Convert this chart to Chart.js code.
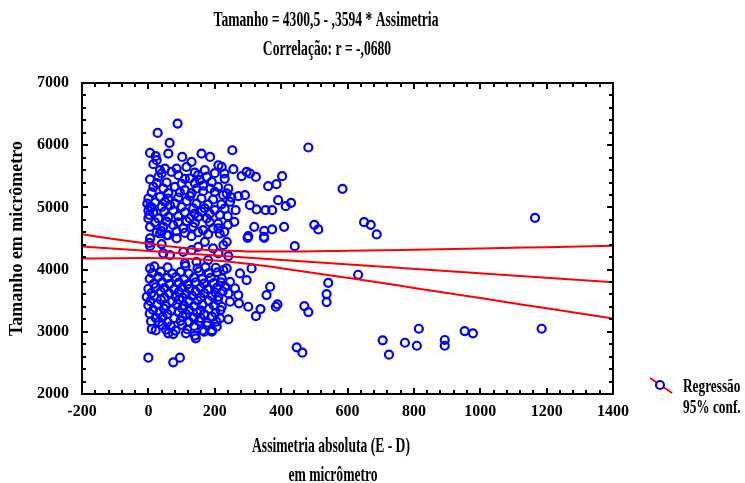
<!DOCTYPE html>
<html>
<head>
<meta charset="utf-8">
<script src="https://cdn.jsdelivr.net/npm/chart.js@4/dist/chart.umd.min.js"></script>
<style>
  html, body { margin: 0; padding: 0; background: #ffffff; }
  #wrap { width: 745px; height: 483px; }
</style>
</head>
<body>
<div id="wrap"><canvas id="c" width="745" height="483"></canvas></div>
<script>
// ---------- DATA ----------
const titleLines = ['Tamanho = 4300,5 - ,3594 * Assimetria', 'Correlação: r = -,0680'];
const xAxisTitleLines = ['Assimetria absoluta (E - D)', 'em micrômetro'];
const yAxisTitle = 'Tamanho em micrômetro';
const legendLabels = ['Regressão', '95% conf.'];

// observations: [assimetria, tamanho]
const pontosSuperiores = [
  [88,6348],[28,6197],[64,6036],[5,5876],[22,5823],[60,5866],[102,5812],[130,5731],[160,5866],[186,5812],
  [211,5678],[15,5694],[25,5759],[50,5625],[85,5625],[70,5571],[40,5545],[90,5518],[150,5518],[5,5449],
  [30,5490],[125,5465],[176,5490],[191,5410],[15,5330],[45,5304],[80,5330],[110,5277],[145,5304],[186,5304],
  [200,5250],[0,5143],[35,5170],[60,5143],[90,5159],[125,5180],[160,5143],[195,5127],[5,5009],[40,5009],
  [65,5036],[100,5009],[135,4983],[170,4983],[200,4956],[0,4822],[30,4822],[60,4848],[90,4859],[125,4822],
  [150,4848],[176,4822],[5,4687],[45,4687],[75,4715],[105,4662],[135,4687],[165,4634],[195,4662],[5,4501],
  [60,4554],[130,4538],[20,5080],[50,5090],[80,5060],[115,5100],[145,5060],[180,5050],[15,4920],[48,4930],
  [75,4950],[110,4920],[140,4900],[160,4930],[185,4900],[20,4760],[55,4770],[90,4760],[115,4780],[140,4750],
  [185,4760],[210,4740],[25,4600],[40,4620],[85,4620],[110,4590],[150,4600],[180,4570],[215,4580],[10,5240],
  [60,5230],[95,5240],[130,5230],[165,5260],[25,5390],[55,5400],[100,5380],[140,5390],[165,5350],[210,5330],
  [110,5460],[155,5440],[35,5600],[115,5650],[170,5600],[140,5560],[10,5000],[0,4950],[-3,5060],[3,4880],
  [220,5050],[230,4980],[215,4880],[225,5200],[230,5460],[250,5160],[200,5550],[240,4720],
  [253,5919],[221,5651],[229,5545],[256,5614],[281,5502],[296,5571],[306,5545],[324,5490],[361,5341],[386,5373],
  [403,5502],[241,5304],[271,5180],[291,5196],[246,5089],[263,4956],[306,5036],[326,4967],[353,4956],[373,4956],
  [391,5116],[414,5020],[430,5073],[239,4859],[259,4768],[319,4687],[349,4623],[373,4646],[409,4687],[301,4538],
  [348,4527],[211,4662],[229,4607],[236,5224]
];
const pontosCentrais = [
  [3,4430],[5,4380],[40,4410],[55,4555],[85,4501],[65,4233],[105,4286],[130,4313],[150,4366],[170,4447],
  [180,4153],[195,4340],[226,4394],[241,4217],[110,4100],[35,4581],[145,4126],[236,4447],[211,4260],[45,4260],
  [299,4511],[349,4511]
];
const pontosInferiores = [
  [5,4019],[18,4052],[58,4035],[112,4058],[148,4022],[172,4041],[203,4030],[226,3992],[236,4019],
  [12,3942],[38,3968],[72,3938],[97,3962],[122,3933],[153,3971],[182,3944],[208,3956],
  [4,3852],[30,3884],[57,3866],[83,3878],[108,3843],[137,3872],[162,3848],[188,3869],[221,3859],
  [16,3772],[42,3796],[63,3768],[92,3792],[118,3763],[143,3797],[168,3774],[197,3783],[219,3796],[246,3804],
  [0,3692],[22,3716],[48,3703],[77,3683],[102,3712],[123,3688],[157,3707],[178,3684],[207,3711],[231,3724],[261,3698],
  [9,3623],[37,3647],[63,3618],[92,3641],[113,3613],[142,3646],[168,3623],[202,3632],[224,3648],[241,3617],
  [-5,3563],[17,3576],[48,3552],[82,3571],[103,3548],[132,3577],[158,3553],[192,3572],[211,3563],[271,3590],
  [6,3493],[38,3512],[72,3488],[93,3517],[122,3494],[148,3502],[182,3498],[209,3507],[246,3483],
  [0,3424],[27,3441],[53,3418],[87,3446],[108,3423],[137,3414],[163,3441],[197,3424],[221,3403],
  [14,3353],[47,3371],[68,3348],[102,3376],[123,3354],[157,3343],[183,3371],[217,3349],
  [4,3291],[32,3306],[58,3284],[92,3311],[113,3289],[147,3306],[168,3284],[202,3303],
  [22,3224],[43,3241],[77,3219],[103,3246],[137,3224],[158,3219],[192,3241],[216,3216],[241,3200],
  [8,3168],[32,3159],[58,3161],[97,3176],[123,3154],[152,3171],[178,3149],[205,3162],
  [42,3106],[68,3089],[102,3111],[138,3094],[177,3101],[206,3082],
  [10,3044],[22,3022],[53,3036],[82,3019],[117,3041],[163,3022],[192,3026],
  [60,2975],[75,2964],[113,2975],[143,2895],[168,3001],[191,3001],[140,2940],
  [276,3939],[296,3831],[311,4019],[273,3457],[301,3403],[324,3253],[338,3366],[356,3590],[367,3724],[384,3403],[389,3441],
  [0,2584],[75,2510],[95,2584]
];
const pontosDispersos = [
  [482,5963],[585,5298],[500,4720],[512,4646],[650,4763],[670,4720],[688,4565],[441,4377],[632,3917],[542,3788],
  [537,3607],[537,3478],[470,3414],[482,3317],[815,3049],[706,2863],[725,2632],[773,2824],[809,2776],[893,2868],
  [893,2776],[953,3012],[978,2975],[447,2750],[464,2664],[1165,4832],[1185,3049]
];

// regression line and 95% confidence band
const regressaoX = [-200, 1400];
const regressaoY = [4372, 3797];
const bandaX =        [-200, -100,    0,  100,  200,  300,  400,  600,  800, 1000, 1200, 1400];
const bandaSuperior = [4567, 4489, 4416, 4353, 4310, 4293, 4290, 4302, 4320, 4340, 4361, 4382];
const bandaInferior = [4177, 4183, 4185, 4177, 4147, 4093, 4023, 3868, 3706, 3542, 3377, 3212];

// axes
const xMin = -200, xMax = 1400, xStep = 200, xMinorStep = 40;
const yMin = 2000, yMax = 7000, yStep = 1000, yMinorStep = 200;

// ---------- BUILD ----------
const toXY = arr => arr.map(p => ({ x: p[0], y: p[1] }));
const pontos = [].concat(pontosSuperiores, pontosCentrais, pontosInferiores, pontosDispersos);
const zipXY = (xs, ys) => xs.map((x, i) => ({ x: x, y: ys[i] }));

const SERIF = '"Liberation Serif", "Times New Roman", serif';
const BLUE = '#0000ff';
const RED = '#ff0000';

function scaledText(ctx, text, x, y, size, align, sx) {
  ctx.save();
  ctx.font = 'bold ' + size + 'px ' + SERIF;
  ctx.fillStyle = '#000';
  ctx.textAlign = align;
  ctx.textBaseline = 'middle';
  ctx.translate(x, y);
  ctx.scale(sx, 1);
  ctx.fillText(text, 0, 0);
  ctx.restore();
}

const framePlugin = {
  id: 'frameTicks',
  afterDatasetsDraw(chart) {
    const ctx = chart.ctx;
    const a = chart.chartArea;
    const xs = chart.scales.x, ys = chart.scales.y;
    ctx.save();
    ctx.strokeStyle = '#000';
    ctx.lineWidth = 2;
    ctx.strokeRect(a.left, a.top, a.right - a.left, a.bottom - a.top);
    ctx.beginPath();
    for (let v = xMin; v <= xMax + 1e-6; v += xMinorStep) {
      const px = Math.round(xs.getPixelForValue(v));
      const len = (Math.abs((v - xMin) % xStep) < 1e-6) ? 6 : 4;
      ctx.moveTo(px, a.bottom); ctx.lineTo(px, a.bottom - len);
      ctx.moveTo(px, a.top); ctx.lineTo(px, a.top + len);
    }
    for (let v = yMin; v <= yMax + 1e-6; v += yMinorStep) {
      const py = Math.round(ys.getPixelForValue(v));
      const len = (Math.abs((v - yMin) % yStep) < 1e-6) ? 6 : 4;
      ctx.moveTo(a.left, py); ctx.lineTo(a.left + len, py);
      ctx.moveTo(a.right, py); ctx.lineTo(a.right - len, py);
    }
    ctx.stroke();
    ctx.restore();
  },
  afterDraw(chart) {
    const ctx = chart.ctx;
    scaledText(ctx, titleLines[0], 326, 21, 20, 'center', 0.68);
    scaledText(ctx, titleLines[1], 327, 50, 20, 'center', 0.68);
    scaledText(ctx, xAxisTitleLines[0], 331, 447, 20, 'center', 0.68);
    scaledText(ctx, xAxisTitleLines[1], 333, 476, 20, 'center', 0.68);
    ctx.save();
    ctx.strokeStyle = RED; ctx.lineWidth = 2;
    ctx.beginPath(); ctx.moveTo(650, 378); ctx.lineTo(672, 393); ctx.stroke();
    ctx.fillStyle = '#fff'; ctx.strokeStyle = BLUE; ctx.lineWidth = 2.2;
    ctx.beginPath(); ctx.arc(660, 385, 4, 0, Math.PI * 2); ctx.fill(); ctx.stroke();
    ctx.restore();
    scaledText(ctx, legendLabels[0], 683, 387, 19, 'left', 0.7);
    scaledText(ctx, legendLabels[1], 683, 408, 19, 'left', 0.7);
  }
};

const tickFont = { family: SERIF, weight: 'bold', size: 16 };

new Chart(document.getElementById('c'), {
  type: 'scatter',
  data: {
    datasets: [
      {
        label: 'Regressão',
        data: zipXY(regressaoX, regressaoY),
        showLine: true, borderColor: RED, borderWidth: 2, pointRadius: 0, order: 0
      },
      {
        label: '95% conf. sup.',
        data: zipXY(bandaX, bandaSuperior),
        showLine: true, borderColor: RED, borderWidth: 2, pointRadius: 0,
        cubicInterpolationMode: 'monotone', order: 0
      },
      {
        label: '95% conf. inf.',
        data: zipXY(bandaX, bandaInferior),
        showLine: true, borderColor: RED, borderWidth: 2, pointRadius: 0,
        cubicInterpolationMode: 'monotone', order: 0
      },
      {
        label: 'Tamanho',
        data: toXY(pontos),
        pointRadius: 4, pointBorderWidth: 2.2,
        pointBorderColor: BLUE, pointBackgroundColor: 'rgba(0,0,0,0)',
        borderColor: BLUE, backgroundColor: 'rgba(0,0,0,0)', order: 5
      }
    ]
  },
  options: {
    responsive: false,
    animation: false,
    devicePixelRatio: 1,
    layout: { padding: { left: 0, right: 132, top: 83, bottom: 49 } },
    plugins: { legend: { display: false }, title: { display: false }, tooltip: { enabled: false } },
    scales: {
      x: {
        type: 'linear', min: xMin, max: xMax,
        grid: { display: false, drawTicks: false },
        border: { display: false },
        ticks: { stepSize: xStep, padding: 8, color: '#000', font: tickFont,
                 callback: v => String(v) },
        afterFit(s) { s.height = 40; }
      },
      y: {
        type: 'linear', min: yMin, max: yMax,
        grid: { display: false, drawTicks: false },
        border: { display: false },
        ticks: { stepSize: yStep, padding: 13, color: '#000', font: tickFont,
                 callback: v => String(v) },
        title: { display: true, text: yAxisTitle, color: '#000', padding: { top: 7, bottom: 0 },
                 font: { family: SERIF, weight: 'bold', size: 18 } },
        afterFit(s) { s.width = 82; }
      }
    }
  },
  plugins: [framePlugin]
});
</script>
</body>
</html>
